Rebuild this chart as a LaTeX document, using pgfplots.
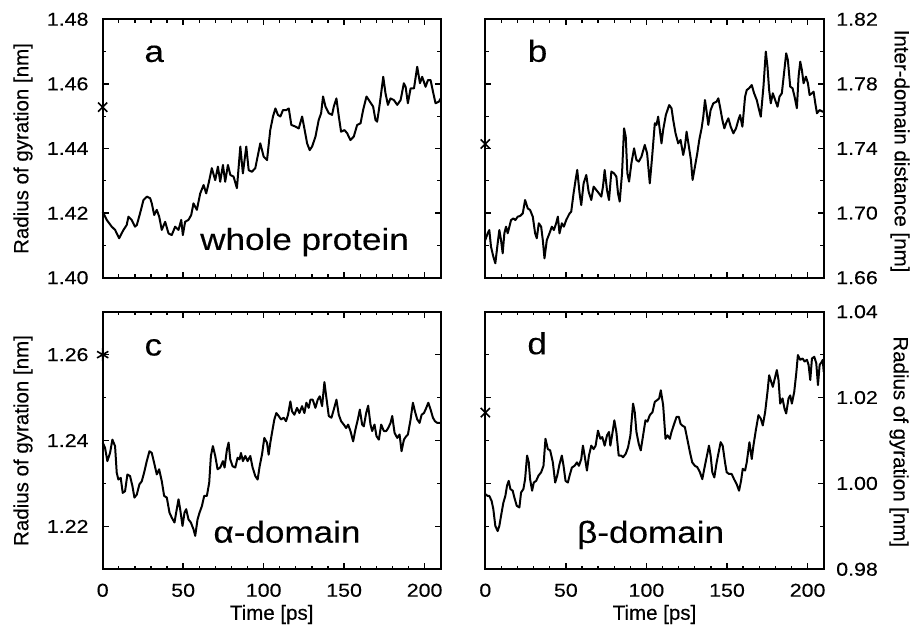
\documentclass[border=0pt]{standalone}
\usepackage{fontspec}
\setmainfont{Liberation Sans}[FakeBold=0.3]
\newfontfamily\widefont{Liberation Sans}[FakeStretch=1.15, FakeBold=0.3]
\usepackage{pgfplots}
\pgfplotsset{compat=1.18}
\newcommand{\tickfont}{\widefont\fontsize{18.6}{22}\selectfont}
\newcommand{\labfont}{\fontsize{20.5}{24}\selectfont}
\newcommand{\bigfont}{\widefont\fontsize{30.5}{36}\selectfont}
\pgfplotsset{
  panel/.style={
    scale only axis, width=338pt, height=258.4pt,
    xmin=0, xmax=210,
    xtick={0,50,100,150,200}, minor xtick={0,10,...,210},
    tick align=inside, xtick pos=both,
    major tick length=6pt, minor tick length=3.5pt,
    major tick style={black, line width=1.6pt},
    minor tick style={black, line width=1.3pt},
    axis line style={black, line width=2pt},
    clip=false,
    /pgf/number format/assume math mode=true,
    tick label style={font=\tickfont},
    yticklabel style={/pgf/number format/fixed, /pgf/number format/fixed zerofill, /pgf/number format/precision=2},
    xticklabel style={anchor=base, yshift=-27.4pt},
  },
  leftpanel/.style={
    ytick pos=both, yticklabel pos=left,
    yticklabel style={anchor=east, inner sep=0pt, xshift=-14pt},
    every axis y label/.style={at={(axis description cs:-0.2358,0.5)}, rotate=90, anchor=center, font=\labfont},
  },
  rightpanel/.style={
    ytick pos=both, yticklabel pos=right,
    yticklabel style={anchor=west, inner sep=0pt, xshift=12.3pt},
  },
  toppanel/.style={xticklabels={}},
  bottompanel/.style={
    xlabel={Time [ps]},
    every axis x label/.style={at={(axis description cs:0.5,-0.196)}, anchor=base, font=\labfont},
  },
  curve/.style={black, line width=2pt, no marks, line join=round},
  init/.style={only marks, mark=x, mark size=6.5pt, mark options={line width=1.6pt}, black},
}
\begin{document}
\begin{tikzpicture}
\path[use as bounding box] (0,0) rectangle (912pt,628pt);

% ---------------- panel a
\begin{axis}[panel, leftpanel, toppanel, at={(102.7pt,350.3pt)}, anchor=south west,
  ymin=1.40, ymax=1.48, ytick={1.40,1.42,1.44,1.46,1.48}, minor ytick={1.41,1.43,1.45,1.47},
  ylabel={Radius of gyration [nm]}]
\addplot[curve] coordinates {(0,1.4204)(2.5,1.4179)(5.6,1.4158)(7.7,1.4148)(10.2,1.4122)(12.9,1.4148)(14.9,1.4163)(16.0,1.4189)(18.0,1.4179)(20.1,1.4158)(21.2,1.4163)(23.2,1.4199)(25.3,1.4240)(27.4,1.4251)(29.5,1.4246)(30.5,1.4230)(32.0,1.4194)(33.6,1.4210)(35.1,1.4189)(36.7,1.4148)(38.8,1.4173)(40.9,1.4137)(42.9,1.4132)(45.0,1.4158)(47.1,1.4148)(48.8,1.4179)(49.8,1.4132)(51.2,1.4173)(53.3,1.4179)(55.0,1.4194)(56.4,1.4230)(58.5,1.4210)(60.6,1.4261)(62.7,1.4287)(64.3,1.4261)(65.8,1.4292)(67.8,1.4339)(69.9,1.4302)(71.6,1.4344)(73.0,1.4297)(74.7,1.4349)(76.1,1.4297)(77.8,1.4349)(79.3,1.4318)(81.3,1.4313)(83.4,1.4277)(85.5,1.4406)(87.1,1.4323)(89.2,1.4406)(90.7,1.4333)(92.7,1.4328)(94.8,1.4339)(97.9,1.4416)(100.0,1.4375)(102.1,1.4364)(104.1,1.4457)(105.8,1.4499)(107.3,1.4524)(108.9,1.4504)(110.4,1.4499)(112.0,1.4519)(114.1,1.4519)(115.6,1.4524)(117.2,1.4473)(119.7,1.4468)(121.8,1.4462)(123.9,1.4499)(125.3,1.4462)(127.0,1.4416)(128.6,1.4395)(130.1,1.4406)(132.2,1.4437)(134.2,1.4488)(135.7,1.4509)(136.9,1.4561)(138.4,1.4530)(140.5,1.4509)(142.5,1.4504)(143.6,1.4530)(145.2,1.4555)(146.7,1.4499)(148.1,1.4452)(150.2,1.4457)(151.9,1.4447)(153.9,1.4426)(156.0,1.4437)(158.1,1.4473)(160.2,1.4478)(161.8,1.4519)(163.9,1.4561)(166.0,1.4545)(168.0,1.4530)(169.5,1.4488)(170.5,1.4483)(171.6,1.4519)(173.0,1.4571)(174.3,1.4622)(175.7,1.4571)(177.2,1.4535)(178.8,1.4555)(180.9,1.4550)(183.0,1.4535)(185.1,1.4550)(187.1,1.4602)(188.2,1.4591)(189.6,1.4540)(191.3,1.4586)(193.4,1.4586)(195.4,1.4653)(197.1,1.4602)(198.5,1.4622)(200.6,1.4591)(202.1,1.4612)(203.7,1.4612)(205.2,1.4576)(206.8,1.4540)(208.9,1.4545)(210,1.4555)};
\addplot[init] coordinates {(0,1.4528)};
\node[anchor=base, font=\bigfont] at (axis cs:32,1.4668) {a};
\node[anchor=base, font=\bigfont] at (axis cs:125.4,1.4086) {whole protein};
\end{axis}

% ---------------- panel b
\begin{axis}[panel, rightpanel, toppanel, at={(485.3pt,350.3pt)}, anchor=south west, width=338.4pt,
  ymin=1.66, ymax=1.82, ytick={1.66,1.70,1.74,1.78,1.82}, minor ytick={1.68,1.72,1.76,1.80},
  ylabel={Inter-domain distance [nm]},
  every axis y label/.style={at={(axis description cs:1.2255,0.49)}, rotate=-90, anchor=center, font=\labfont}]
\addplot[curve] coordinates {(0,1.6833)(1.45,1.6875)(2.49,1.6895)(3.53,1.6792)(4.98,1.6730)(6.22,1.6689)(7.68,1.6813)(8.71,1.6895)(9.75,1.6833)(10.79,1.6751)(11.83,1.6875)(12.86,1.6916)(13.90,1.6875)(14.94,1.6916)(15.98,1.6957)(17.43,1.6967)(18.67,1.6957)(20.12,1.6978)(21.58,1.6982)(23.24,1.6998)(24.69,1.7081)(26.35,1.7029)(27.80,1.7019)(29.46,1.6978)(30.91,1.6875)(31.95,1.6844)(33.20,1.6937)(34.65,1.6916)(35.68,1.6833)(36.72,1.6720)(38.17,1.6833)(39.83,1.6875)(41.29,1.6916)(42.53,1.6895)(43.98,1.6937)(45.02,1.6978)(46.06,1.6875)(47.51,1.6937)(48.76,1.6916)(50.21,1.6957)(52.28,1.6998)(53.32,1.7009)(54.77,1.7122)(56.02,1.7205)(57.05,1.7267)(58.51,1.7122)(59.54,1.7050)(61.00,1.7184)(62.66,1.7236)(64.11,1.7133)(65.77,1.7081)(67.22,1.7164)(68.88,1.7143)(70.54,1.7122)(71.99,1.7102)(73.03,1.7164)(74.07,1.7267)(75.52,1.7143)(76.76,1.7081)(78.22,1.7257)(79.88,1.7246)(81.33,1.7226)(82.37,1.7122)(83.40,1.7071)(84.85,1.7246)(86.10,1.7525)(87.14,1.7473)(88.17,1.7246)(89.21,1.7195)(90.66,1.7308)(92.32,1.7401)(93.78,1.7329)(95.23,1.7319)(96.89,1.7349)(98.96,1.7422)(100.41,1.7370)(102.07,1.7184)(103.53,1.7349)(105.19,1.7556)(106.22,1.7546)(107.26,1.7597)(108.30,1.7515)(109.34,1.7432)(110.37,1.7515)(112.03,1.7607)(114.11,1.7669)(115.56,1.7649)(116.60,1.7577)(118.05,1.7494)(119.71,1.7432)(121.16,1.7453)(122.82,1.7360)(123.86,1.7411)(124.90,1.7504)(126.35,1.7411)(127.59,1.7329)(128.63,1.7205)(130.08,1.7287)(131.54,1.7370)(132.78,1.7453)(134.23,1.7525)(135.27,1.7597)(136.31,1.7700)(137.34,1.7628)(138.38,1.7546)(139.83,1.7638)(141.49,1.7680)(143.57,1.7690)(144.61,1.7711)(145.64,1.7659)(147.10,1.7577)(148.34,1.7525)(149.38,1.7556)(150.83,1.7587)(152.28,1.7535)(153.94,1.7494)(155.60,1.7525)(157.05,1.7577)(158.09,1.7607)(159.54,1.7535)(161.20,1.7721)(162.24,1.7762)(163.69,1.7773)(165.35,1.7793)(166.80,1.7742)(168.46,1.7700)(169.92,1.7638)(170.95,1.7597)(172.61,1.7783)(174.07,1.8000)(175.10,1.7907)(176.14,1.7762)(177.18,1.7680)(178.42,1.7742)(179.88,1.7700)(181.33,1.7659)(182.57,1.7721)(184.02,1.7742)(185.48,1.7876)(186.72,1.7989)(187.76,1.7948)(189.21,1.7783)(190.66,1.7773)(191.91,1.7721)(193.36,1.7649)(194.40,1.7845)(195.44,1.7938)(196.47,1.7886)(197.51,1.7804)(198.96,1.7845)(200.21,1.7804)(201.24,1.7731)(202.70,1.7742)(203.73,1.7752)(204.77,1.7680)(205.81,1.7618)(207.47,1.7638)(209.34,1.7628)(210,1.7628)};
\addplot[init] coordinates {(0,1.7428)};
\node[anchor=base, font=\bigfont] at (axis cs:32.4,1.7937) {b};
\end{axis}

% ---------------- panel c
\begin{axis}[panel, leftpanel, bottompanel, at={(102.7pt,58.7pt)}, anchor=south west, height=257.6pt,
  ymin=1.21, ymax=1.27, ytick={1.22,1.24,1.26}, minor ytick={1.21,1.23,1.25,1.27},
  ylabel={Radius of gyration [nm]}]
\addplot[curve] coordinates {(0,1.2395)(1.45,1.2383)(2.90,1.2352)(4.56,1.2371)(6.02,1.2402)(7.68,1.2387)(8.71,1.2325)(9.75,1.2309)(11.20,1.2313)(12.45,1.2278)(13.90,1.2282)(15.35,1.2321)(17.01,1.2317)(18.46,1.2294)(19.71,1.2267)(21.16,1.2274)(22.82,1.2298)(24.27,1.2305)(25.73,1.2325)(27.39,1.2352)(29.05,1.2375)(30.50,1.2371)(31.95,1.2348)(33.61,1.2321)(35.06,1.2333)(36.72,1.2305)(38.17,1.2271)(39.83,1.2267)(41.49,1.2232)(42.95,1.2220)(44.61,1.2209)(45.64,1.2232)(47.10,1.2263)(48.13,1.2240)(49.59,1.2201)(50.83,1.2232)(51.87,1.2240)(53.32,1.2216)(54.77,1.2209)(56.43,1.2193)(57.47,1.2178)(58.92,1.2216)(60.17,1.2232)(61.62,1.2247)(63.07,1.2271)(64.73,1.2271)(66.18,1.2302)(67.22,1.2364)(68.46,1.2387)(69.92,1.2364)(71.37,1.2333)(73.03,1.2337)(74.69,1.2352)(75.73,1.2337)(77.18,1.2379)(78.22,1.2395)(79.25,1.2356)(80.71,1.2340)(82.37,1.2337)(83.82,1.2360)(85.06,1.2356)(85.89,1.2371)(87.14,1.2352)(88.59,1.2364)(90.04,1.2352)(91.70,1.2364)(93.15,1.2337)(94.81,1.2317)(96.27,1.2309)(97.51,1.2340)(98.96,1.2367)(100.41,1.2406)(102.07,1.2395)(103.11,1.2367)(104.15,1.2395)(105.19,1.2418)(106.64,1.2449)(107.88,1.2464)(109.34,1.2457)(110.79,1.2449)(112.45,1.2453)(113.90,1.2445)(115.15,1.2460)(116.60,1.2491)(117.63,1.2468)(119.09,1.2460)(120.75,1.2476)(122.20,1.2464)(123.86,1.2480)(125.31,1.2464)(126.56,1.2488)(128.01,1.2476)(129.05,1.2495)(130.50,1.2495)(132.16,1.2476)(133.61,1.2495)(134.85,1.2503)(136.31,1.2480)(137.76,1.2536)(139.00,1.2499)(140.46,1.2457)(142.12,1.2453)(143.57,1.2472)(145.23,1.2495)(146.68,1.2460)(148.13,1.2445)(149.79,1.2437)(151.24,1.2429)(152.49,1.2437)(153.94,1.2422)(155.60,1.2398)(157.05,1.2426)(158.51,1.2449)(159.75,1.2472)(161.20,1.2437)(162.24,1.2433)(163.69,1.2464)(164.94,1.2481)(166.39,1.2437)(167.43,1.2422)(168.88,1.2437)(170.12,1.2410)(171.58,1.2402)(173.03,1.2437)(174.69,1.2422)(176.14,1.2422)(177.39,1.2429)(178.84,1.2441)(179.88,1.2457)(181.33,1.2418)(182.99,1.2406)(184.44,1.2414)(185.68,1.2375)(187.14,1.2402)(188.59,1.2410)(189.63,1.2414)(191.29,1.2449)(192.74,1.2488)(193.98,1.2468)(195.44,1.2449)(196.89,1.2441)(198.13,1.2460)(199.59,1.2464)(201.04,1.2476)(202.28,1.2488)(203.73,1.2472)(205.19,1.2453)(206.43,1.2445)(207.88,1.2441)(210,1.2441)};
\addplot[init, mark=asterisk] coordinates {(0,1.26)};
\node[anchor=base, font=\bigfont] at (axis cs:31.5,1.2598) {c};
\node[anchor=base, font=\bigfont] at (axis cs:114.5,1.2162) {α-domain};
\end{axis}

% ---------------- panel d
\begin{axis}[panel, rightpanel, bottompanel, at={(485.3pt,58.7pt)}, anchor=south west, width=338.4pt, height=257.6pt,
  ymin=0.98, ymax=1.04, ytick={0.98,1.00,1.02,1.04}, minor ytick={0.99,1.01,1.03},
  ylabel={Radius of gyration [nm]},
  every axis y label/.style={at={(axis description cs:1.2225,0.495)}, rotate=-90, anchor=center, font=\labfont}]
\addplot[curve] coordinates {(0,0.9975)(1.45,0.9971)(2.49,0.9971)(3.94,0.9959)(4.98,0.9940)(6.22,0.9901)(7.68,0.9889)(8.71,0.9901)(9.75,0.9924)(11.20,0.9955)(12.45,0.9971)(13.49,0.9995)(14.52,1.0006)(15.56,0.9987)(17.01,0.9983)(18.05,0.9967)(19.50,0.9948)(21.16,0.9944)(22.20,0.9979)(23.65,0.9987)(24.69,1.0010)(25.93,1.0065)(26.97,1.0049)(27.80,1.0010)(29.05,0.9983)(30.08,1.0002)(31.54,1.0006)(32.99,1.0018)(34.65,1.0026)(36.10,1.0041)(37.34,1.0104)(38.80,1.0080)(40.25,1.0077)(41.91,1.0049)(43.36,1.0002)(44.61,1.0018)(46.06,1.0045)(47.51,1.0065)(48.55,1.0041)(49.79,1.0006)(51.24,1.0002)(52.28,1.0018)(53.73,1.0037)(55.39,1.0041)(56.85,1.0049)(58.09,1.0041)(59.54,1.0057)(60.58,1.0088)(61.62,1.0065)(63.07,1.0030)(64.32,1.0065)(65.77,1.0088)(67.22,1.0080)(68.46,1.0088)(69.92,1.0123)(71.37,1.0104)(72.61,1.0108)(74.07,1.0088)(75.52,1.0112)(76.76,1.0120)(77.59,1.0088)(78.84,1.0116)(80.08,1.0147)(81.33,1.0120)(82.78,1.0065)(84.23,1.0065)(85.48,1.0061)(87.14,1.0069)(88.59,1.0084)(90.04,1.0112)(91.70,1.0186)(92.74,1.0166)(93.78,1.0120)(95.23,1.0092)(96.47,1.0077)(97.93,1.0112)(99.38,1.0147)(100.62,1.0144)(102.07,1.0159)(103.73,1.0166)(105.19,1.0190)(106.64,1.0194)(107.88,1.0198)(108.92,1.0217)(110.37,1.0182)(111.83,1.0104)(113.07,1.0112)(114.52,1.0104)(115.56,1.0120)(117.22,1.0139)(118.67,1.0155)(120.12,1.0155)(121.16,1.0139)(122.20,1.0135)(123.86,1.0131)(125.31,1.0104)(126.97,1.0073)(128.42,1.0049)(130.08,1.0041)(131.54,1.0038)(133.20,1.0026)(134.65,1.0010)(135.89,1.0034)(137.34,1.0061)(138.80,1.0088)(139.83,1.0065)(140.87,1.0026)(142.12,1.0014)(143.57,1.0049)(144.61,1.0069)(146.06,1.0096)(147.30,1.0088)(148.76,1.0049)(149.79,1.0026)(151.24,1.0022)(152.90,1.0022)(154.36,1.0010)(156.02,0.9998)(157.47,0.9983)(158.71,1.0006)(159.75,1.0034)(161.20,1.0030)(162.24,1.0049)(163.90,1.0096)(165.35,1.0057)(166.39,1.0088)(167.84,1.0123)(169.50,1.0159)(170.95,1.0151)(172.20,1.0135)(173.65,1.0166)(175.10,1.0213)(176.14,1.0252)(177.39,1.0237)(178.42,1.0225)(179.88,1.0248)(180.91,1.0264)(181.95,1.0241)(182.99,1.0186)(184.44,1.0198)(185.68,1.0174)(186.72,1.0163)(188.17,1.0198)(189.21,1.0205)(190.25,1.0186)(191.70,1.0213)(192.95,1.0256)(193.98,1.0299)(195.44,1.0288)(196.89,1.0291)(198.13,1.0284)(199.59,1.0288)(200.62,1.0276)(201.66,1.0241)(202.70,1.0291)(204.15,1.0295)(205.39,1.0280)(206.43,1.0229)(207.47,1.0276)(208.92,1.0284)(209.4,1.0288)(210,1.0260)};
\addplot[init] coordinates {(0,1.0165)};
\node[anchor=base, font=\bigfont] at (axis cs:32.2,1.0301) {d};
\node[anchor=base, font=\bigfont] at (axis cs:102.6,0.98617) {β-domain};
\end{axis}
\end{tikzpicture}
\end{document}
